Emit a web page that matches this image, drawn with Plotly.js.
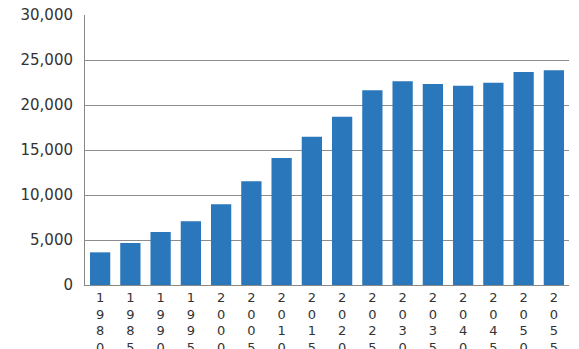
<!DOCTYPE html>
<html>
<head>
<meta charset="utf-8">
<script src="https://cdn.plot.ly/plotly-3.0.1.min.js"></script>
<style>html,body{margin:0;padding:0;background:#fff;}#chart{width:579px;height:349px;}</style>
</head>
<body>
<div id="chart"></div>
<script>
const years = ["1980","1985","1990","1995","2000","2005","2010","2015","2020","2025","2030","2035","2040","2045","2050","2055"];
const values = [3630, 4670, 5890, 7070, 8960, 11520, 14100, 16480, 18700, 21630, 22630, 22330, 22150, 22480, 23670, 23850];
const yTicks = [0, 5000, 10000, 15000, 20000, 25000, 30000];
const yTickText = ["0", "5,000", "10,000", "15,000", "20,000", "25,000", "30,000"];

const xTickText = years.map(y => y.split("").join("<br>"));

Plotly.newPlot("chart", [{
  type: "bar",
  x: years,
  y: values,
  marker: {color: "#2a77bb"},
  hoverinfo: "x+y"
}], {
  width: 579, height: 349,
  margin: {l: 85, r: 10, t: 15, b: 64},
  paper_bgcolor: "#ffffff",
  plot_bgcolor: "#ffffff",
  bargap: 0.33,
  showlegend: false,
  font: {family: "DejaVu Sans, sans-serif", size: 14, color: "#333"},
  xaxis: {
    type: "category",
    tickvals: years,
    ticktext: xTickText,
    tickangle: 0,
    showline: true, linecolor: "#888", linewidth: 1,
    ticks: "", showgrid: false,
    tickfont: {size: 13, color: "#333"}
  },
  yaxis: {
    range: [0, 30000],
    tickvals: yTicks,
    ticktext: yTickText,
    showline: true, linecolor: "#888", linewidth: 1,
    showgrid: true, gridcolor: "#8c8c8c", gridwidth: 1,
    zeroline: false,
    ticks: "", ticklabelstandoff: 8,
    tickfont: {size: 15, color: "#333"}
  }
}, {displayModeBar: false, staticPlot: true});
</script>
</body>
</html>
